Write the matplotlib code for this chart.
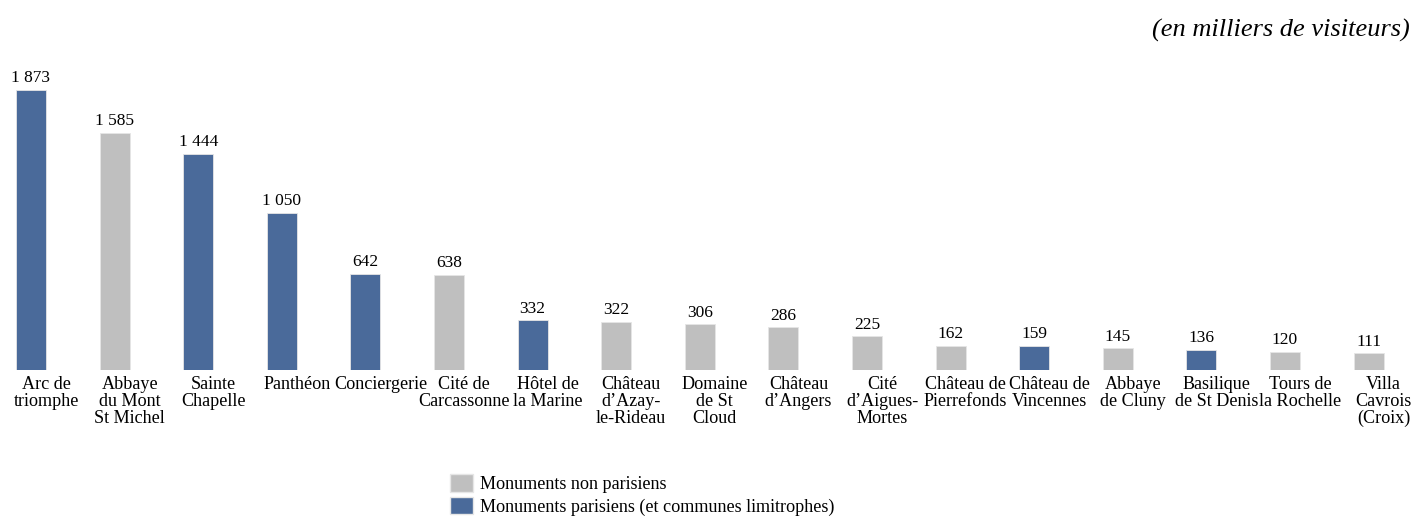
import matplotlib
matplotlib.use("Agg")
import matplotlib.pyplot as plt
from matplotlib.patches import Patch

plt.rcParams["font.family"] = ["Liberation Serif", "DejaVu Serif"]

# Data
monuments = ["Arc de\ntriomphe", "Abbaye\ndu Mont\nSt Michel", "Sainte\nChapelle",
             "Panthéon", "Conciergerie", "Cité de\nCarcassonne", "Hôtel de\nla Marine",
             "Château\nd’Azay-\nle-Rideau", "Domaine\nde St\nCloud", "Château\nd’Angers",
             "Cité\nd’Aigues-\nMortes", "Château de\nPierrefonds", "Château de\nVincennes",
             "Abbaye\nde Cluny", "Basilique\nde St Denis", "Tours de\nla Rochelle",
             "Villa\nCavrois\n(Croix)"]
visiteurs = [1873, 1585, 1444, 1050, 642, 638, 332, 322, 306, 286, 225, 162, 159, 145, 136, 120, 111]
parisien = [True, False, True, True, True, False, True, False, False, False,
            False, False, True, False, True, False, False]

bleu = "#4A6A9A"
gris = "#BFBFBF"
couleurs = [bleu if p else gris for p in parisien]

fig = plt.figure(figsize=(14.17, 5.17), dpi=100)
ax = fig.add_axes([0, 1 - 370 / 517, 1, 310 / 517])

x = list(range(len(monuments)))
ax.bar(x, visiteurs, width=0.36, color=couleurs, edgecolor="#E6E6E6", linewidth=0.6)

for xi, v in zip(x, visiteurs):
    txt = f"{v:,}".replace(",", " ")
    ax.text(xi, v + 25, txt, ha="center", va="bottom", fontsize=12.5)

for xi, lab in zip(x, monuments):
    ax.text(xi + 0.18, -40, lab, ha="center", va="top", fontsize=13.1, linespacing=1.0)

ax.set_xlim(-31 / 83.6, (1417 - 31) / 83.6)
ax.set_ylim(0, 1873 * 310 / 280)
ax.axis("off")

fig.text(0.995, 0.942, "(en milliers de visiteurs)", ha="right", va="center",
         fontsize=19, style="italic")

handles = [Patch(facecolor=gris, edgecolor="#E6E6E6", label="Monuments non parisiens"),
           Patch(facecolor=bleu, edgecolor="#E6E6E6", label="Monuments parisiens (et communes limitrophes)")]
fig.legend(handles=handles, loc="upper left", bbox_to_anchor=(443 / 1417, 1 - 467 / 517),
           frameon=False, fontsize=13.1, handlelength=1.25, handleheight=1.1,
           handletextpad=0.4, labelspacing=0.2, borderaxespad=0)

fig.savefig("out.png", dpi=100)
